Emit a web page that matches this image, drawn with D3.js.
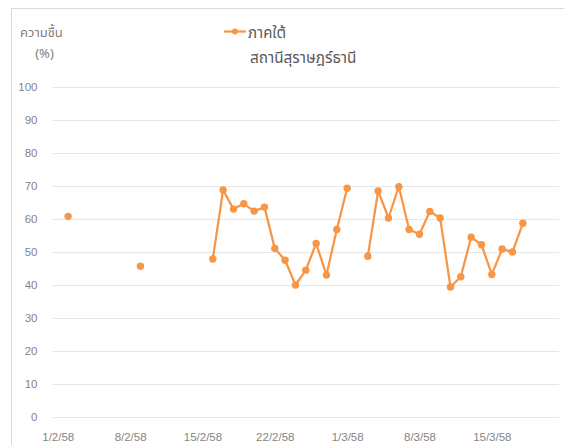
<!DOCTYPE html>
<html>
<head>
<meta charset="utf-8">
<script src="https://cdn.jsdelivr.net/npm/d3@7"></script>
<style>
  html, body { margin: 0; padding: 0; background: #fff; }
  svg { display: block; }
  text { font-family: "Noto Sans Thai", "Noto Sans", "Liberation Sans", sans-serif; }
</style>
</head>
<body>
<svg id="chart" width="564" height="445"></svg>
<script>
// ---- data ----
const dates = ["2/2/58","9/2/58","16/2/58","17/2/58","18/2/58","19/2/58","20/2/58","21/2/58",
  "22/2/58","23/2/58","24/2/58","25/2/58","26/2/58","27/2/58","28/2/58","1/3/58","2/3/58",
  "3/3/58","4/3/58","5/3/58","6/3/58","7/3/58","8/3/58","9/3/58","10/3/58","11/3/58",
  "12/3/58","13/3/58","14/3/58","15/3/58","16/3/58","17/3/58","18/3/58"];
const humidity = [60.8, 45.7, 47.9, 68.8, 63.0, 64.6, 62.4, 63.6,
  51.1, 47.5, 40.0, 44.5, 52.6, 43.0, 56.8, 69.3, null,
  48.7, 68.5, 60.3, 69.8, 56.8, 55.4, 62.3, 60.3, 39.4,
  42.5, 54.5, 52.2, 43.2, 50.9, 50.0, 58.7];
const xTickLabels = ["1/2/58","8/2/58","15/2/58","22/2/58","1/3/58","8/3/58","15/3/58"];
const yTicks = [0,10,20,30,40,50,60,70,80,90,100];
const seriesName = "ภาคใต้";
const subtitle = "สถานีสุราษฎร์ธานี";
const yTitle = ["ความชื้น", "(%)"];
const xDomain = ["31/1/58", "21/3/58"];

// parse d/m/yy (Buddhist year) to Date
function parse(s) {
  const [d, m, y] = s.split("/").map(Number);
  return new Date(Date.UTC(2500 + y - 543, m - 1, d));
}

const color = "#f79646";
const svg = d3.select("#chart");

// frame
svg.append("path")
  .attr("d", "M11.5,445 V8.5 H564")
  .attr("fill", "none").attr("stroke", "#d9d9d9").attr("stroke-width", 1);

const x = d3.scaleUtc()
  .domain([d3.utcHour.offset(parse(xDomain[0]), 12), d3.utcHour.offset(parse(xDomain[1]), 12)])
  .range([52.6, 559]);
const y = d3.scaleLinear().domain([0, 100]).range([417, 87]);

// gridlines
svg.append("g").selectAll("line").data(yTicks).join("line")
  .attr("x1", x.range()[0]).attr("x2", x.range()[1])
  .attr("y1", d => Math.round(y(d)) + 0.5).attr("y2", d => Math.round(y(d)) + 0.5)
  .attr("stroke", "#e6e6e6").attr("stroke-width", 1);

// y axis labels
const yAxis = d3.axisLeft(y).tickValues(yTicks).tickSize(0).tickPadding(0);
const gy = svg.append("g").attr("transform", "translate(37.5,0)").call(yAxis);
gy.select(".domain").remove();
gy.selectAll("text").attr("fill", "#858585").attr("font-size", "11.5px")
  .style("font-family", "'Liberation Sans', sans-serif");

// x axis labels
const xAxis = d3.axisBottom(x).tickValues(xTickLabels.map(parse))
  .tickSize(0).tickPadding(0)
  .tickFormat((d, i) => xTickLabels[i]);
const gx = svg.append("g").attr("transform", "translate(0,432.5)").call(xAxis);
gx.select(".domain").remove();
gx.selectAll("text").attr("fill", "#858585").attr("font-size", "11.5px")
  .style("font-family", "'Liberation Sans', sans-serif");

// line
const pts = dates.map((d, i) => ({ date: parse(d), v: humidity[i] }));
const line = d3.line().x(d => x(d.date)).y(d => y(d.v));
// break the line at missing days
const segs = [];
let cur = [];
pts.forEach(p => {
  if (p.v == null) { if (cur.length) segs.push(cur); cur = []; return; }
  if (cur.length && (p.date - cur[cur.length - 1].date) > 864e5) { segs.push(cur); cur = []; }
  cur.push(p);
});
if (cur.length) segs.push(cur);
svg.append("g").selectAll("path").data(segs).join("path")
  .attr("d", line).attr("fill", "none").attr("stroke", color)
  .attr("stroke-width", 2.25).attr("stroke-linejoin", "round").attr("stroke-linecap", "round");
svg.append("g").selectAll("circle").data(pts.filter(p => p.v != null)).join("circle")
  .attr("cx", d => x(d.date)).attr("cy", d => y(d.v)).attr("r", 3.7).attr("fill", color);

// y title
svg.append("text").attr("x", 20).attr("y", 37).attr("font-size", "13px").attr("fill", "#7f7f7f").text(yTitle[0]);
svg.append("text").attr("x", 44.5).attr("y", 58).attr("text-anchor", "middle").attr("font-size", "13px").attr("fill", "#7f7f7f").text(yTitle[1]);

// legend
svg.append("line").attr("x1", 224).attr("x2", 246).attr("y1", 31.5).attr("y2", 31.5)
  .attr("stroke", color).attr("stroke-width", 2.25);
svg.append("circle").attr("cx", 235).attr("cy", 31.5).attr("r", 3).attr("fill", color);
svg.append("text").attr("x", 248).attr("y", 38).attr("font-size", "15px").attr("fill", "#595959").text(seriesName);
svg.append("text").attr("x", 250).attr("y", 63).attr("font-size", "15.3px").attr("fill", "#595959").text(subtitle);
</script>
</body>
</html>
